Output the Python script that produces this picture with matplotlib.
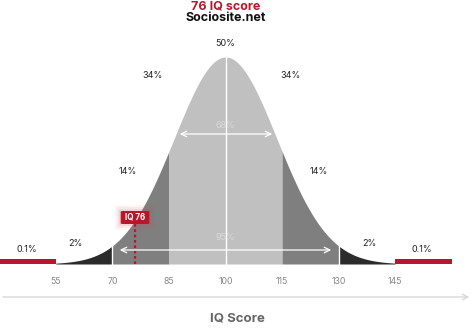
import numpy as np
import matplotlib
matplotlib.use("Agg")
import matplotlib.pyplot as plt
from matplotlib.patches import FancyBboxPatch, Rectangle

plt.rcParams['font.family'] = ['Inter', 'DejaVu Sans']

# ---- data ----
title = "76 IQ score"
subtitle = "Sociosite.net"
iq_score = 76
mean_iq = 100
sd_iq = 13.6
tick_values = [55, 70, 85, 100, 115, 130, 145]
band_edges = [55, 70, 85, 115, 130, 145]
band_colors = ["#2b2b2b", "#7f7f7f", "#c0c0c0", "#7f7f7f", "#2b2b2b"]
tail_ranges = [(40.2, 55), (145, 160)]
pct_labels = ["50%", "34%", "34%", "14%", "14%", "2%", "2%", "0.1%", "0.1%"]
pct_x = [100, 80.6, 117.2, 74.0, 124.8, 60.2, 138.2, 47.2, 152.0]
pct_y = [286, 254, 254, 159, 159, 87, 87, 81, 81]
xlabel = "IQ Score"

PX = 3.77  # pixels per IQ point
X0 = mean_iq - 225.5 / PX
X1 = X0 + 474 / PX
BASE = 66
PEAK = 207

fig = plt.figure(figsize=(4.74, 3.30), dpi=100)
ax = fig.add_axes([0, 0, 1, 1])
ax.set_xlim(X0, X1)
ax.set_ylim(0, 330)
ax.axis('off')

def curve(x):
    return BASE + PEAK * np.exp(-0.5 * ((x - mean_iq) / sd_iq) ** 2)

for (a, b), c in zip(zip(band_edges[:-1], band_edges[1:]), band_colors):
    xs = np.linspace(a, b, 200)
    ax.fill_between(xs, BASE, curve(xs), color=c, lw=0)

# white separators
for v in [70, 100, 130]:
    ax.plot([v, v], [BASE, curve(v)], color="white", lw=1.0)

# red tails
for a, b in tail_ranges:
    ax.add_patch(Rectangle((a, BASE), b - a, 5, color="#b5182b", lw=0))

# arrows
ax.annotate("", xy=(X0 + 177 / PX, 196), xytext=(X0 + 275 / PX, 196),
            arrowprops=dict(arrowstyle="<->", color="white", lw=0.9, mutation_scale=10))
ax.annotate("", xy=(X0 + 117 / PX, 80), xytext=(X0 + 334 / PX, 80),
            arrowprops=dict(arrowstyle="<->", color="white", lw=0.9, mutation_scale=10))
ax.text(mean_iq, 205, "68%", ha="center", va="center", fontsize=6.5, color="#dadada")
ax.text(mean_iq, 92, "95%", ha="center", va="center", fontsize=6.5, color="#dadada")

for lab, x, y in zip(pct_labels, pct_x, pct_y):
    ax.text(x, y, lab, ha="center", va="center", fontsize=6.5, color="#222222")

# ticks
for t in tick_values:
    ax.text(t, 48, str(t), ha="center", va="center", fontsize=6.3, color="#888888")

# bottom axis
ax.annotate("", xy=(X0 + 472 / PX, 33), xytext=(X0, 33),
            arrowprops=dict(arrowstyle="->", color="#d5d5d5", lw=0.9, mutation_scale=10))
ax.text(mean_iq + 12 / PX, 11, xlabel, ha="center", va="center", fontsize=9.5,
        fontweight="bold", color="#666666")

# IQ marker
ax.plot([iq_score, iq_score], [BASE, 106], color="#b5182b", lw=1.6, ls=(0, (1.2, 1.2)))
for glow, al in [(6, 0.05), (4, 0.08), (2, 0.12)]:
    ax.add_patch(FancyBboxPatch((iq_score - 3.8 - glow / PX, 106 - glow), 7.6 + 2 * glow / PX, 13 + 2 * glow,
                                boxstyle="round,pad=0,rounding_size=1", color="#e0455a", alpha=al, lw=0))
ax.add_patch(FancyBboxPatch((iq_score - 3.8, 106), 7.6, 13,
                            boxstyle="round,pad=0,rounding_size=0.6", color="#b5182b", lw=0))
ax.text(iq_score, 112.5, f"IQ {iq_score}", ha="center", va="center", fontsize=5.8,
        fontweight="bold", color="white")

# titles
ax.text(mean_iq, 323, title, ha="center", va="center", fontsize=9, fontweight="bold", color="#b5182b")
ax.text(mean_iq, 312, subtitle, ha="center", va="center", fontsize=9, fontweight="bold", color="#111111")

fig.savefig("out.png", dpi=100)
